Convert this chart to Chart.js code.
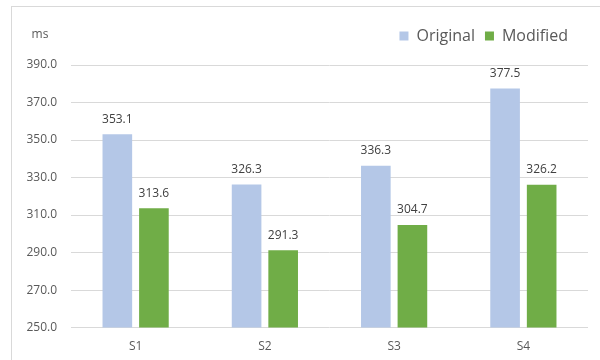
<!DOCTYPE html>
<html lang="en">
<head>
    <meta charset="UTF-8">
    <title>Original vs Modified</title>
    <style>
        html, body { margin: 0; padding: 0; background: #fff; overflow: hidden; }
        #frame { position: absolute; left: 11px; top: 6px; width: 700px; height: 400px;
                 border-left: 1px solid #d9d9d9; border-top: 1px solid #d9d9d9; }
        #wrap { position: absolute; left: 0; top: 0; width: 600px; height: 360px; }
    </style>
</head>
<body>
    <div id="frame"></div>
    <div id="wrap">
        <canvas id="myChart" width="600" height="360"></canvas>
    </div>

    <script src="https://cdn.jsdelivr.net/npm/chart.js"></script>
    <script>
        const labels = ["S1", "S2", "S3", "S4"];
        const originalData = [353.1, 326.3, 336.3, 377.5];
        const modifiedData = [313.6, 291.3, 304.7, 326.2];
        const yUnit = "ms";

        const fontFamily = "'Open Sans', 'Noto Sans', sans-serif";

        // value labels above each bar + unit text, legend spacing
        const valueLabels = {
            id: "valueLabels",
            afterInit(chart) {
                // leave more room between legend and plot
                const legend = chart.legend;
                const fit = legend.fit;
                legend.fit = function () {
                    fit.call(this);
                    this.height += 11;
                };
            },
            afterLayout(chart) {
                chart.legend.left -= 10;
                chart.legend.right -= 10;
            },
            afterDatasetsDraw(chart) {
                const ctx = chart.ctx;
                ctx.save();
                ctx.font = "12px " + fontFamily;
                ctx.fillStyle = "#404040";
                ctx.textAlign = "center";
                ctx.textBaseline = "bottom";
                chart.data.datasets.forEach((ds, i) => {
                    chart.getDatasetMeta(i).data.forEach((bar, j) => {
                        ctx.fillText(ds.data[j].toFixed(1), bar.x, bar.y - 9);
                    });
                });
                ctx.fillStyle = "#595959";
                ctx.textAlign = "center";
                ctx.textBaseline = "middle";
                ctx.fillText(yUnit, chart.chartArea.left - 31, 35);
                ctx.restore();
            }
        };

        const ctx = document.getElementById("myChart");
        new Chart(ctx, {
            type: "bar",
            data: {
                labels: labels,
                datasets: [{
                    label: "Original",
                    data: originalData,
                    backgroundColor: "#B4C7E7",
                    categoryPercentage: 0.566,
                    barPercentage: 0.81
                }, {
                    label: "Modified",
                    data: modifiedData,
                    backgroundColor: "#70AD47",
                    categoryPercentage: 0.566,
                    barPercentage: 0.81
                }]
            },
            options: {
                responsive: false,
                animation: false,
                layout: { padding: { left: 24, right: 12, top: 18, bottom: -6 } },
                plugins: {
                    legend: {
                        position: "top",
                        align: "end",
                        labels: {
                            boxWidth: 9,
                            boxHeight: 9,
                            padding: 10,
                            color: "#595959",
                            font: { family: fontFamily, size: 16 }
                        }
                    },
                    tooltip: { enabled: false }
                },
                scales: {
                    x: {
                        grid: { display: false, drawTicks: false },
                        border: { display: false },
                        ticks: { color: "#595959", padding: 12, font: { family: fontFamily, size: 12 } }
                    },
                    y: {
                        min: 250,
                        max: 390,
                        afterFit: (scale) => { scale.width = 47; },
                        grid: { color: "#d9d9d9", drawTicks: false },
                        border: { display: false },
                        ticks: {
                            stepSize: 20,
                            padding: 14,
                            color: "#595959",
                            font: { family: fontFamily, size: 12 },
                            callback: (v) => v.toFixed(1)
                        }
                    }
                }
            },
            plugins: [valueLabels]
        });
    </script>
</body>
</html>
